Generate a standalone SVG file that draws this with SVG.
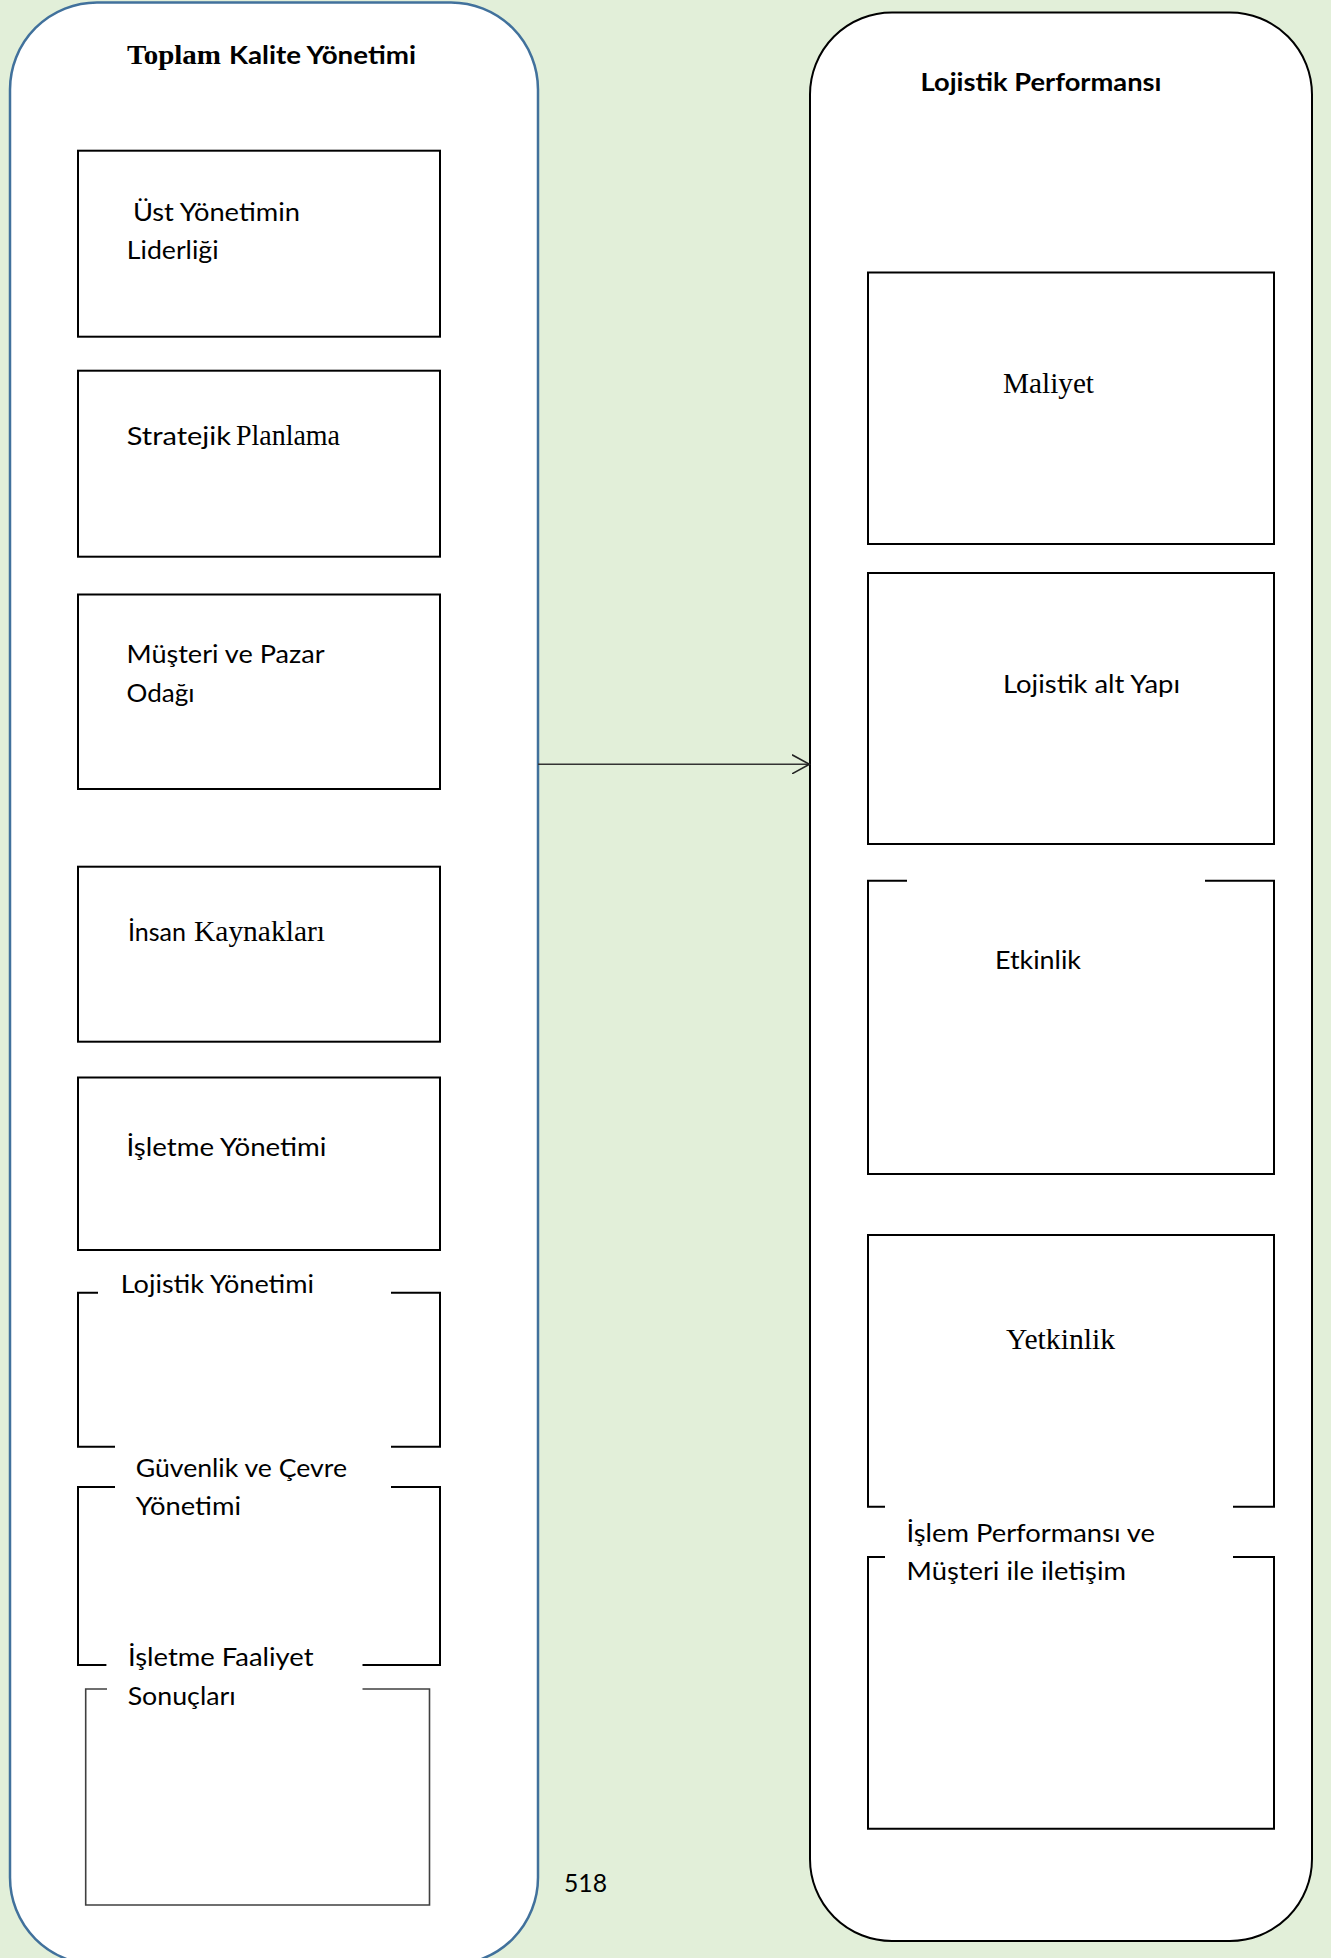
<svg xmlns="http://www.w3.org/2000/svg" width="1331" height="1958" viewBox="0 0 1331 1958">
<defs>
<style>
.bg{fill:#E2EFD9}
.cont-l{fill:#fff;stroke:#41719C;stroke-width:2.5}
.cont-r{fill:#fff;stroke:#000;stroke-width:2}
.box{fill:none;stroke:#000;stroke-width:2}
.box-g{fill:none;stroke:#404040;stroke-width:1.6}
.c{font-family:Lato,"Open Sans","Noto Sans",sans-serif;font-size:25.5px;fill:#000}
.cb{font-family:Lato,"Open Sans","Noto Sans",sans-serif;font-size:25.5px;font-weight:bold;fill:#000}
.t{font-family:"Liberation Serif","Times New Roman",serif;font-size:29px;fill:#000}
.tb{font-family:"Liberation Serif","Times New Roman",serif;font-size:28px;font-weight:bold;fill:#000}
.conn{fill:none;stroke:#333;stroke-width:1.6}
</style>
<marker id="arr" markerWidth="20" markerHeight="20" refX="17.5" refY="10" orient="auto" markerUnits="userSpaceOnUse">
<path d="M0,0.5 L17.5,10 L0,19.5" fill="none" stroke="#222" stroke-width="1.6"/>
</marker>
</defs>
<rect class="bg" x="0" y="0" width="1331" height="1958"/>

<g id="tkm">
<rect class="cont-l" x="10" y="2.5" width="528" height="1962" rx="87" ry="87"/>
<text class="tb" x="127" y="64" textLength="94" lengthAdjust="spacingAndGlyphs">Toplam</text>
<text class="cb" x="229" y="64" textLength="187" lengthAdjust="spacingAndGlyphs">Kalite Yönetimi</text>
</g>

<g id="lojistik-performansi">
<rect class="cont-r" x="810" y="12.5" width="502" height="1928.5" rx="82" ry="82"/>
<text class="cb" x="920.5" y="90.5" textLength="241" lengthAdjust="spacingAndGlyphs">Lojistik Performansı</text>
</g>

<g id="ust-yonetim">
<rect class="box" x="78" y="150.7" width="362" height="186"/>
<text class="c" x="132.9" y="220.7" textLength="167" lengthAdjust="spacingAndGlyphs">Üst Yönetimin</text>
<text class="c" x="126.8" y="259.3" textLength="91.8" lengthAdjust="spacingAndGlyphs">Liderliği</text>
</g>

<g id="stratejik-planlama">
<rect class="box" x="78" y="370.7" width="362" height="186"/>
<text class="c" x="126.7" y="445" textLength="104.3" lengthAdjust="spacingAndGlyphs">Stratejik</text>
<text class="t" x="236" y="445" textLength="104" lengthAdjust="spacingAndGlyphs">Planlama</text>
</g>

<g id="musteri-pazar">
<rect class="box" x="78" y="594.5" width="362" height="194.5"/>
<text class="c" x="126.5" y="663" textLength="198" lengthAdjust="spacingAndGlyphs">Müşteri ve Pazar</text>
<text class="c" x="126.5" y="701.5" textLength="68" lengthAdjust="spacingAndGlyphs">Odağı</text>
</g>

<g id="insan-kaynaklari">
<rect class="box" x="78" y="866.7" width="362" height="175"/>
<text class="c" x="128" y="940.7" textLength="58" lengthAdjust="spacingAndGlyphs">İnsan</text>
<text class="t" x="194" y="940.7" textLength="131" lengthAdjust="spacingAndGlyphs">Kaynakları</text>
</g>

<g id="isletme-yonetimi">
<rect class="box" x="78" y="1077.5" width="362" height="172.5"/>
<text class="c" x="126.5" y="1156" textLength="200" lengthAdjust="spacingAndGlyphs">İşletme Yönetimi</text>
</g>

<g id="lojistik-yonetimi">
<path class="box" d="M98,1292.7 H78 V1446.7 H115 M391,1446.7 H440 V1292.7 H391"/>
<text class="c" x="120.7" y="1293" textLength="193.3" lengthAdjust="spacingAndGlyphs">Lojistik Yönetimi</text>
</g>

<g id="guvenlik-cevre">
<path class="box" d="M115,1487 H78 V1665 H106.4 M362.5,1665 H440 V1487 H391"/>
<text class="c" x="135.7" y="1477" textLength="211.3" lengthAdjust="spacingAndGlyphs">Güvenlik ve Çevre</text>
<text class="c" x="135.7" y="1515" textLength="105.3" lengthAdjust="spacingAndGlyphs">Yönetimi</text>
</g>

<g id="isletme-faaliyet">
<path class="box-g" d="M107,1689 H85.7 V1905 H429.5 V1689 H362.5"/>
<text class="c" x="127.9" y="1666" textLength="185.7" lengthAdjust="spacingAndGlyphs">İşletme Faaliyet</text>
<text class="c" x="127.7" y="1705" textLength="108" lengthAdjust="spacingAndGlyphs">Sonuçları</text>
</g>

<g id="maliyet">
<rect class="box" x="868" y="272.5" width="406" height="271.5"/>
<text class="t" x="1003" y="393" textLength="91" lengthAdjust="spacingAndGlyphs">Maliyet</text>
</g>

<g id="lojistik-alt-yapi">
<rect class="box" x="868" y="573" width="406" height="271"/>
<text class="c" x="1003" y="693" textLength="177" lengthAdjust="spacingAndGlyphs">Lojistik alt Yapı</text>
</g>

<g id="etkinlik">
<path class="box" d="M907,880.7 H868 V1174 H1274 V880.7 H1205"/>
<text class="c" x="995" y="969" textLength="86" lengthAdjust="spacingAndGlyphs">Etkinlik</text>
</g>

<g id="yetkinlik">
<path class="box" d="M885,1506.7 H868 V1235 H1274 V1506.7 H1233"/>
<text class="t" x="1006" y="1349" textLength="109" lengthAdjust="spacingAndGlyphs">Yetkinlik</text>
</g>

<g id="islem-performansi">
<path class="box" d="M885,1557 H868 V1828.7 H1274 V1557 H1233"/>
<text class="c" x="906.5" y="1541.7" textLength="248.5" lengthAdjust="spacingAndGlyphs">İşlem Performansı ve</text>
<text class="c" x="906.5" y="1580" textLength="219.5" lengthAdjust="spacingAndGlyphs">Müşteri ile iletişim</text>
</g>

<g id="page-number">
<text class="c" x="564" y="1892" textLength="43" lengthAdjust="spacingAndGlyphs">518</text>
</g>

<g id="connectors">
<line class="conn" x1="538" y1="764.3" x2="809.5" y2="764.3" marker-end="url(#arr)"/>
</g>
</svg>
